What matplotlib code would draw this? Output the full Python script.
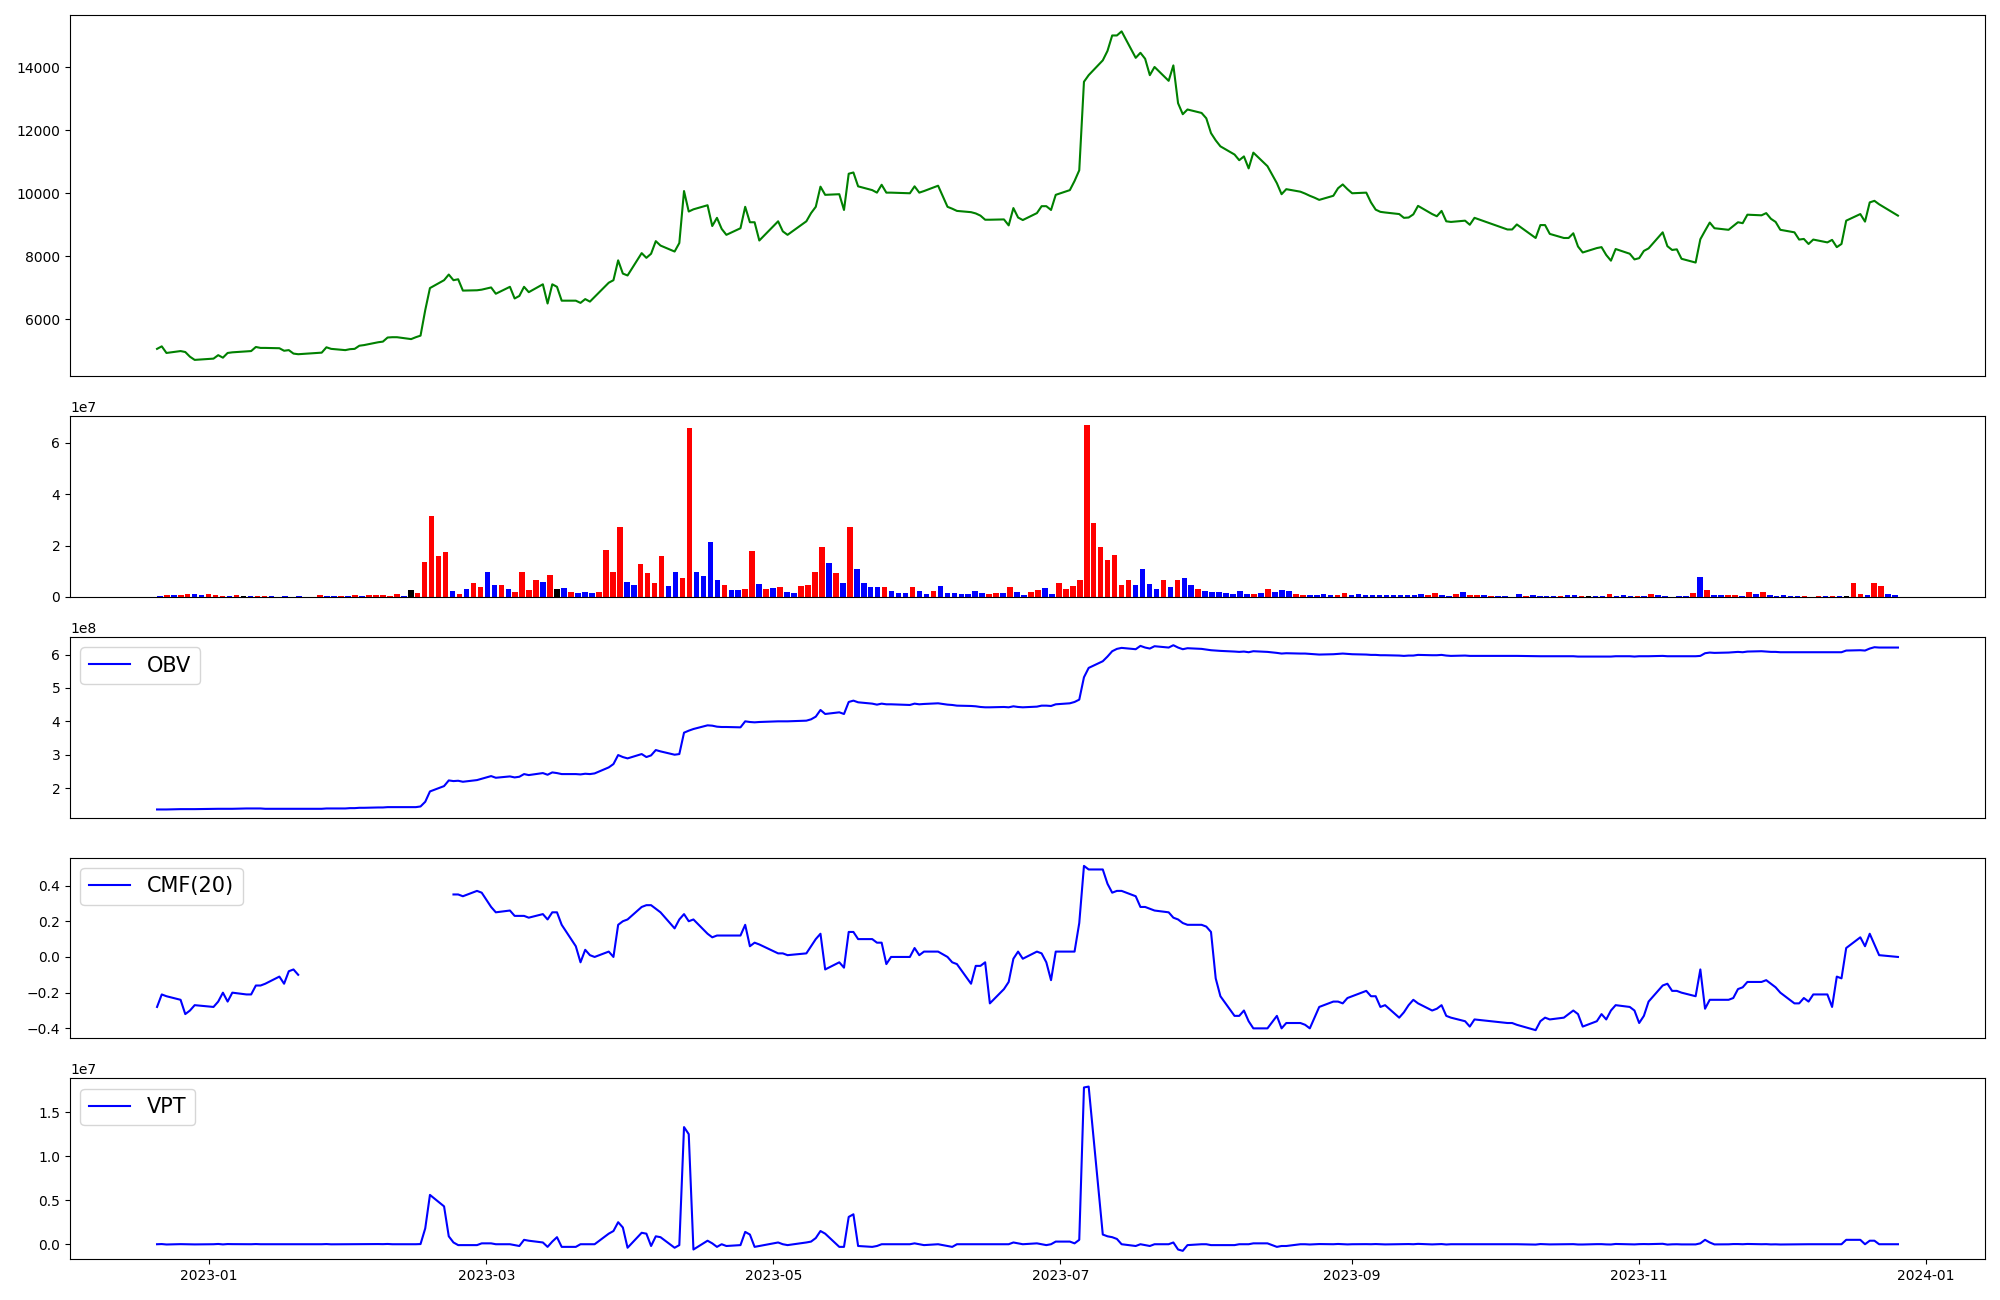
import numpy as np
import pandas as pd
import matplotlib
matplotlib.use('Agg')
import matplotlib.pyplot as plt

# -----------------------------
# trading days (KRX calendar, 2022-12-21 .. 2023-12-26)
# -----------------------------
krx_holidays = ['2022-12-30', '2023-01-23', '2023-01-24', '2023-03-01', '2023-05-01',
                '2023-05-05', '2023-05-29', '2023-06-06', '2023-08-15', '2023-09-28',
                '2023-09-29', '2023-10-02', '2023-10-03', '2023-10-09', '2023-12-25']
dates = pd.bdate_range('2022-12-21', '2023-12-26', freq='C', holidays=krx_holidays)

# close price
close = [
    5060, 5140, 4930, 4990, 4960, 4810, 4710, 4750, 4860, 4780,
    4930, 4950, 4980, 4990, 5120, 5090, 5090, 5080, 5000, 5020,
    4910, 4890, 4940, 5110, 5060, 5020, 5050, 5060, 5160, 5180,
    5270, 5290, 5420, 5430, 5430, 5370, 5430, 5480, 6290, 6990,
    7240, 7420, 7240, 7270, 6910, 6920, 6940, 7010, 6810, 7030,
    6660, 6740, 7030, 6860, 7110, 6500, 7110, 7030, 6590, 6590,
    6520, 6640, 6560, 6710, 7160, 7240, 7870, 7450, 7390, 8100,
    7950, 8080, 8480, 8340, 8150, 8420, 10070, 9420, 9490, 9620,
    8960, 9220, 8870, 8680, 8890, 9570, 9080, 9080, 8500, 9110,
    8790, 8680, 9110, 9370, 9570, 10210, 9950, 9970, 9470, 10620,
    10660, 10220, 10100, 10020, 10270, 10020, 10020, 10000, 10220, 10020,
    10070, 10240, 9570, 9510, 9440, 9400, 9360, 9290, 9160, 9160,
    9170, 8980, 9530, 9230, 9150, 9370, 9590, 9590, 9470, 9950,
    10100, 10390, 10730, 13540, 13750, 14220, 14520, 15010, 15010, 15140,
    14300, 14460, 14270, 13750, 14010, 13570, 14060, 12860, 12510, 12660,
    12550, 12380, 11910, 11680, 11490, 11230, 11050, 11170, 10790, 11290,
    10860, 10320, 9970, 10130, 10050, 9990, 9920, 9860, 9790, 9920,
    10160, 10280, 10130, 10000, 10020, 9710, 9480, 9410, 9390, 9340,
    9220, 9230, 9330, 9600, 9340, 9270, 9440, 9110, 9090, 9130,
    9000, 9220, 8850, 8850, 9010, 8580, 8990, 8990, 8710, 8580,
    8580, 8730, 8310, 8120, 8260, 8290, 8040, 7860, 8230, 8080,
    7900, 7940, 8170, 8250, 8760, 8320, 8200, 8220, 7920, 7800,
    8540, 8810, 9070, 8890, 8840, 8960, 9080, 9050, 9320, 9300,
    9370, 9190, 9090, 8840, 8760, 8530, 8550, 8390, 8530, 8440,
    8520, 8290, 8390, 9130, 9340, 9100, 9710, 9760, 9650, 9290,
]

# volume, millions of shares
volume_m = [
    0.26, 0.65, 0.65, 0.65, 1.0, 1.0, 0.65, 1.0, 0.65, 0.3,
    0.3, 0.65, 0.3, 0.3, 0.3, 0.3, 0.3, 0.0, 0.3, 0.0,
    0.3, 0.0, 0.0, 0.65, 0.3, 0.3, 0.3, 0.3, 0.65, 0.3,
    0.65, 0.65, 0.65, 0.3, 1.0, 0.3, 2.6, 1.4, 13.8, 31.3,
    16.1, 17.3, 2.2, 1.0, 3.0, 5.3, 3.7, 9.9, 4.5, 4.5,
    3.0, 1.8, 9.9, 2.6, 6.8, 5.7, 8.4, 3.0, 3.4, 1.8,
    1.4, 1.8, 1.4, 1.8, 18.1, 9.6, 27.4, 5.7, 4.5, 13.0,
    9.2, 5.3, 16.1, 4.1, 9.9, 7.2, 65.8, 9.9, 8.0, 21.2,
    6.5, 4.5, 2.6, 2.6, 3.0, 17.7, 4.9, 3.0, 3.4, 3.7,
    1.8, 1.4, 4.1, 4.5, 9.9, 19.3, 13.4, 9.2, 5.3, 27.4,
    10.7, 5.3, 3.7, 3.7, 3.7, 2.2, 1.4, 1.4, 3.7, 2.2,
    1.0, 2.2, 4.1, 1.4, 1.4, 1.0, 1.0, 2.2, 1.4, 1.0,
    1.4, 1.4, 3.7, 1.8, 0.65, 1.8, 2.6, 3.4, 1.0, 5.3,
    3.0, 4.1, 6.5, 66.9, 28.6, 19.3, 14.2, 16.5, 4.5, 6.8,
    4.5, 10.7, 4.9, 3.0, 6.5, 3.7, 6.8, 7.2, 4.5, 3.0,
    2.2, 1.8, 1.8, 1.4, 1.0, 2.2, 1.0, 1.0, 1.4, 3.0,
    1.8, 2.6, 2.2, 1.0, 0.65, 0.65, 0.65, 1.0, 0.65, 0.65,
    1.4, 0.65, 1.0, 0.65, 0.65, 0.65, 0.65, 0.65, 0.65, 0.65,
    0.65, 1.0, 0.65, 1.4, 0.65, 0.3, 1.0, 1.8, 0.65, 0.65,
    0.65, 0.3, 0.3, 0.3, 0.0, 1.0, 0.3, 0.65, 0.3, 0.3,
    0.3, 0.3, 0.65, 0.65, 0.3, 0.3, 0.3, 0.3, 1.0, 0.3,
    0.65, 0.3, 0.3, 0.3, 1.0, 0.65, 0.3, 0.0, 0.3, 0.3,
    1.4, 7.6, 2.6, 0.65, 0.65, 0.65, 0.65, 0.3, 1.8, 1.0,
    1.8, 0.65, 0.3, 0.65, 0.3, 0.3, 0.3, 0.0, 0.3, 0.3,
    0.3, 0.3, 0.3, 5.3, 1.0, 0.65, 5.3, 4.1, 1.0, 0.65,
]

# candle direction per day: r = up, b = down, k = unchanged
candle_dir = (
    "brbrrbbrrr" "brkbrrbbbb" "bbbrbbrbrb" "rrrrrbkrrr" "rrbrbrrbbr"
    "brrrrbrkbr" "bbbrrrrbbr" "rrrbbrrbbb" "brbbrrbrbr" "bbrrrrbrbr"
    "bbbbrbbbrb" "brbbbbbbbr" "rbrbbrrbbr" "rrrrrrrrrr" "bbbbrbrbbr"
    "bbbbbbbrbr" "bbbrrbbbbr" "rbbbbbbbbb" "bbrrbbrbrr" "brbbbbrbbb"
    "brbbrkbbrb" "bbrbrbbbbb" "rbrbbrrbrb" "rbbbbbrbrb" "rbkrrbrrbb"
)

# on-balance volume, 1e8
obv_e8 = [
    1.36, 1.36, 1.36, 1.37, 1.37, 1.37, 1.37, 1.38, 1.38, 1.38,
    1.38, 1.38, 1.39, 1.39, 1.39, 1.39, 1.38, 1.38, 1.38, 1.38,
    1.38, 1.38, 1.38, 1.39, 1.39, 1.39, 1.40, 1.40, 1.41, 1.41,
    1.42, 1.42, 1.43, 1.43, 1.43, 1.43, 1.43, 1.45, 1.59, 1.90,
    2.06, 2.23, 2.21, 2.22, 2.19, 2.24, 2.28, 2.36, 2.31, 2.35,
    2.32, 2.34, 2.42, 2.39, 2.45, 2.40, 2.47, 2.45, 2.42, 2.42,
    2.41, 2.43, 2.42, 2.44, 2.62, 2.72, 2.99, 2.93, 2.89, 3.02,
    2.93, 2.98, 3.14, 3.10, 3.00, 3.02, 3.66, 3.72, 3.77, 3.88,
    3.87, 3.84, 3.83, 3.83, 3.82, 4.00, 3.98, 3.97, 3.98, 4.00,
    4.00, 4.00, 4.02, 4.06, 4.14, 4.34, 4.22, 4.27, 4.22, 4.58,
    4.62, 4.57, 4.53, 4.50, 4.53, 4.51, 4.51, 4.49, 4.53, 4.51,
    4.52, 4.54, 4.50, 4.49, 4.47, 4.46, 4.45, 4.43, 4.42, 4.42,
    4.43, 4.42, 4.45, 4.43, 4.42, 4.44, 4.47, 4.47, 4.46, 4.51,
    4.54, 4.58, 4.65, 5.32, 5.60, 5.80, 5.94, 6.10, 6.17, 6.20,
    6.16, 6.26, 6.21, 6.18, 6.25, 6.21, 6.28, 6.21, 6.16, 6.19,
    6.17, 6.15, 6.13, 6.12, 6.11, 6.09, 6.08, 6.09, 6.07, 6.10,
    6.08, 6.05, 6.03, 6.04, 6.03, 6.03, 6.02, 6.01, 6.00, 6.01,
    6.02, 6.03, 6.02, 6.01, 6.00, 5.99, 5.99, 5.98, 5.98, 5.97,
    5.96, 5.97, 5.97, 5.99, 5.98, 5.98, 5.99, 5.97, 5.96, 5.97,
    5.96, 5.96, 5.96, 5.96, 5.96, 5.95, 5.95, 5.95, 5.95, 5.95,
    5.95, 5.95, 5.94, 5.94, 5.94, 5.94, 5.94, 5.94, 5.95, 5.95,
    5.94, 5.95, 5.95, 5.95, 5.96, 5.95, 5.95, 5.95, 5.95, 5.95,
    5.96, 6.04, 6.06, 6.05, 6.06, 6.07, 6.08, 6.07, 6.09, 6.10,
    6.09, 6.08, 6.08, 6.07, 6.07, 6.07, 6.07, 6.07, 6.07, 6.07,
    6.07, 6.07, 6.07, 6.12, 6.13, 6.12, 6.18, 6.22, 6.21, 6.21,
]

# Chaikin money flow (20); nan where the window has no value
nan = np.nan
cmf20 = [
    -0.28, -0.21, -0.22, -0.24, -0.32, -0.30, -0.27, -0.28, -0.25, -0.20,
    -0.25, -0.20, -0.21, -0.21, -0.16, -0.16, -0.15, -0.11, -0.15, -0.08,
    -0.07, -0.10, nan, nan, nan, nan, nan, nan, nan, nan,
    nan, nan, nan, nan, nan, nan, nan, nan, nan, nan,
    nan, nan, 0.35, 0.35, 0.34, 0.37, 0.36, 0.28, 0.25, 0.26,
    0.23, 0.23, 0.23, 0.22, 0.24, 0.21, 0.25, 0.25, 0.18, 0.06,
    -0.03, 0.04, 0.01, 0.00, 0.03, 0.00, 0.18, 0.20, 0.21, 0.28,
    0.29, 0.29, 0.27, 0.25, 0.16, 0.21, 0.24, 0.20, 0.21, 0.13,
    0.11, 0.12, 0.12, 0.12, 0.12, 0.18, 0.06, 0.08, 0.07, 0.02,
    0.02, 0.01, 0.02, 0.06, 0.10, 0.13, -0.07, -0.03, -0.06, 0.14,
    0.14, 0.10, 0.10, 0.08, 0.08, -0.04, 0.00, 0.00, 0.05, 0.01,
    0.03, 0.03, 0.00, -0.03, -0.04, -0.15, -0.05, -0.05, -0.03, -0.26,
    -0.18, -0.14, -0.01, 0.03, -0.01, 0.03, 0.02, -0.03, -0.13, 0.03,
    0.03, 0.03, 0.19, 0.51, 0.49, 0.49, 0.41, 0.36, 0.37, 0.37,
    0.34, 0.28, 0.28, 0.27, 0.26, 0.25, 0.22, 0.21, 0.19, 0.18,
    0.18, 0.17, 0.14, -0.12, -0.22, -0.33, -0.33, -0.30, -0.36, -0.40,
    -0.40, -0.33, -0.40, -0.37, -0.37, -0.38, -0.40, -0.34, -0.28, -0.25,
    -0.25, -0.26, -0.23, -0.22, -0.19, -0.22, -0.22, -0.28, -0.27, -0.34,
    -0.31, -0.27, -0.24, -0.26, -0.30, -0.29, -0.27, -0.33, -0.34, -0.36,
    -0.39, -0.35, -0.37, -0.37, -0.38, -0.41, -0.36, -0.34, -0.35, -0.34,
    -0.32, -0.30, -0.32, -0.39, -0.36, -0.32, -0.35, -0.30, -0.27, -0.28,
    -0.30, -0.37, -0.33, -0.25, -0.16, -0.15, -0.19, -0.19, -0.20, -0.22,
    -0.07, -0.29, -0.24, -0.24, -0.24, -0.23, -0.18, -0.17, -0.14, -0.14,
    -0.13, -0.15, -0.17, -0.20, -0.26, -0.26, -0.23, -0.25, -0.21, -0.21,
    -0.28, -0.11, -0.12, 0.05, 0.11, 0.06, 0.13, 0.07, 0.01, 0.00,
]

# volume price trend, 1e7
vpt_e7 = [
    0.000, 0.002, -0.003, 0.001, 0.000, -0.002, -0.002, 0.000, 0.003, -0.002,
    0.002, 0.001, 0.000, 0.000, 0.002, 0.000, 0.000, 0.000, -0.001, 0.000,
    -0.001, 0.000, 0.000, 0.002, -0.001, 0.000, 0.000, 0.000, 0.002, 0.001,
    0.002, 0.001, 0.003, 0.000, 0.000, -0.001, 0.000, 0.002, 0.18, 0.56,
    0.43, 0.09, 0.02, -0.01, -0.01, -0.01, 0.01, 0.01, 0.00, 0.00,
    -0.01, -0.02, 0.05, 0.04, 0.02, -0.03, 0.03, 0.08, -0.03, -0.03,
    0.00, 0.00, 0.00, 0.00, 0.12, 0.15, 0.25, 0.19, -0.04, 0.13,
    0.12, -0.02, 0.09, 0.08, -0.04, -0.01, 1.33, 1.25, -0.06, 0.04,
    0.01, -0.03, 0.00, -0.02, -0.01, 0.14, 0.11, -0.03, -0.02, 0.02,
    0.00, -0.01, 0.02, 0.03, 0.07, 0.15, 0.12, -0.03, -0.03, 0.31,
    0.34, -0.02, -0.03, -0.02, 0.00, 0.00, 0.00, 0.00, 0.01, 0.00,
    -0.01, 0.00, -0.02, -0.03, 0.00, 0.00, 0.00, 0.00, 0.00, 0.00,
    0.00, 0.00, 0.02, 0.01, 0.00, 0.01, 0.00, -0.01, 0.00, 0.03,
    0.03, 0.01, 0.05, 1.78, 1.79, 0.11, 0.09, 0.08, 0.06, 0.00,
    -0.02, 0.00, -0.01, -0.02, 0.00, 0.00, 0.02, -0.06, -0.075, -0.01,
    0.00, 0.00, -0.01, -0.01, -0.01, -0.01, 0.00, 0.00, 0.00, 0.01,
    0.01, -0.03, -0.02, -0.02, 0.00, 0.00, -0.003, 0.00, 0.002, 0.00,
    0.003, 0.00, -0.002, 0.00, 0.001, 0.00, 0.002, 0.00, -0.002, 0.00,
    0.00, 0.002, 0.00, 0.004, -0.002, 0.00, 0.002, -0.003, 0.00, 0.00,
    0.00, 0.00, 0.00, -0.001, 0.00, -0.004, 0.002, 0.00, -0.002, 0.00,
    0.00, 0.001, -0.003, -0.003, 0.001, 0.001, -0.002, -0.003, 0.003, -0.001,
    -0.002, 0.001, 0.002, 0.001, 0.005, -0.004, -0.001, 0.000, -0.002, -0.002,
    0.01, 0.05, 0.02, -0.002, -0.001, 0.002, 0.002, 0.00, 0.003, 0.00,
    0.001, -0.002, -0.001, -0.003, -0.001, 0.00, 0.00, 0.00, 0.00, 0.00,
    0.00, -0.001, 0.00, 0.05, 0.05, 0.00, 0.04, 0.04, 0.00, 0.00,
]

dir_colors = {'r': 'red', 'b': 'blue', 'k': 'black'}

# -----------------------------
# Plot
# -----------------------------
fig, axes = plt.subplots(5, 1, figsize=(20, 13),
                         gridspec_kw={'height_ratios': [2, 1, 1, 1, 1]})
plt.subplots_adjust(left=0.035, right=0.9925, top=0.9885, bottom=0.0315, hspace=0.1845)
ax_price, ax_vol, ax_obv, ax_cmf, ax_vpt = axes

ax_price.plot(dates, close, color='green')

vol = np.array(volume_m) * 1e6
bar_colors = [dir_colors[c] for c in candle_dir]
ax_vol.bar(np.arange(len(vol)), vol, color=bar_colors)

ax_obv.plot(dates, np.array(obv_e8) * 1e8, color='blue', label='OBV')
ax_obv.legend(loc='upper left', fontsize=15)

ax_cmf.plot(dates, cmf20, color='blue', label='CMF(20)')
ax_cmf.legend(loc='upper left', fontsize=15)

ax_vpt.plot(dates, np.array(vpt_e7) * 1e7, color='blue', label='VPT')
ax_vpt.legend(loc='upper left', fontsize=15)

for ax in axes[:4]:
    ax.set_xticks([])

plt.savefig('out.png', dpi=100)
